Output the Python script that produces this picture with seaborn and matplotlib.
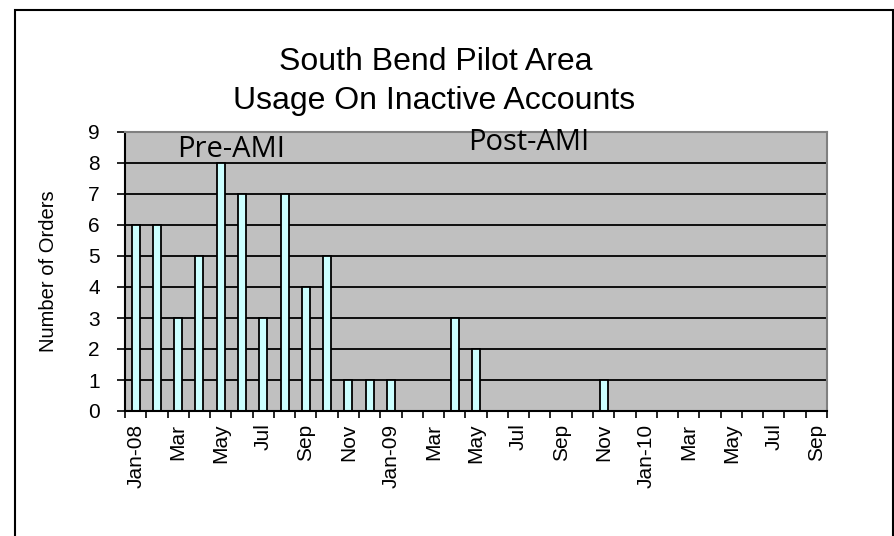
import numpy as np
import pandas as pd
import matplotlib
matplotlib.use("Agg")
import matplotlib.pyplot as plt
import seaborn as sns

# monthly orders, Jan-08 .. Sep-10
months = ['Jan-08', 'Feb-08', 'Mar-08', 'Apr-08', 'May-08', 'Jun-08', 'Jul-08', 'Aug-08',
          'Sep-08', 'Oct-08', 'Nov-08', 'Dec-08',
          'Jan-09', 'Feb-09', 'Mar-09', 'Apr-09', 'May-09', 'Jun-09', 'Jul-09', 'Aug-09',
          'Sep-09', 'Oct-09', 'Nov-09', 'Dec-09',
          'Jan-10', 'Feb-10', 'Mar-10', 'Apr-10', 'May-10', 'Jun-10', 'Jul-10', 'Aug-10',
          'Sep-10']
orders = [6, 6, 3, 5, 8, 7, 3, 7, 4, 5, 1, 1,
          1, 0, 0, 3, 2, 0, 0, 0, 0, 0, 1, 0,
          0, 0, 0, 0, 0, 0, 0, 0, 0]
tick_labels = ['Jan-08', 'Mar', 'May', 'Jul', 'Sep', 'Nov',
               'Jan-09', 'Mar', 'May', 'Jul', 'Sep', 'Nov',
               'Jan-10', 'Mar', 'May', 'Jul', 'Sep']

df = pd.DataFrame({'month': months, 'orders': orders})

sns.set_style("white")
plt.rcParams['font.family'] = ['Liberation Sans', 'DejaVu Sans']
# black text like the original spreadsheet chart
plt.rcParams['text.color'] = 'black'
plt.rcParams['axes.labelcolor'] = 'black'
plt.rcParams['xtick.color'] = 'black'
plt.rcParams['ytick.color'] = 'black'

fig = plt.figure(figsize=(8.95, 5.36), dpi=100)
ax = fig.add_axes([125 / 895, 1 - 411 / 536, (827 - 125) / 895, (411 - 132) / 536])
ax.set_facecolor('#C0C0C0')

sns.barplot(data=df, x='month', y='orders', order=months, color='#CCFFFF',
            saturation=1, edgecolor='black', linewidth=1.3, width=0.38, ax=ax)

ax.set_ylim(0, 9)
ax.set_xlim(-0.5, len(months) - 0.5)
ax.set_yticks(range(10))
ax.yaxis.grid(True, color='black', linewidth=1.3)
ax.set_axisbelow(True)

# tick marks on the category boundaries, labels every other month
ax.set_xticks(np.arange(0, len(months), 2))
ax.set_xticklabels(tick_labels, rotation=90, fontsize=15)
ax.set_xticks(np.arange(-0.5, len(months)), minor=True)
ax.tick_params(axis='x', which='major', length=0, pad=9)
ax.tick_params(axis='x', which='minor', direction='out', length=5, width=1.2, color='black', bottom=True)
ax.tick_params(axis='y', direction='out', length=6, width=1.2, color='black', labelsize=15, pad=12, left=True)

ax.set_xlabel('')
ax.set_ylabel('Number of Orders', fontsize=14.5)
ax.yaxis.set_label_coords(-0.095, 0.5)

for side in ['left', 'bottom']:
    ax.spines[side].set_color('black')
    ax.spines[side].set_linewidth(1.5)
for side in ['top', 'right']:
    ax.spines[side].set_visible(True)
    ax.spines[side].set_color('#808080')
    ax.spines[side].set_linewidth(1.5)

ax.text(4.5, 8.45, 'Pre-AMI', fontsize=21, family=['Open Sans', 'DejaVu Sans'],
        ha='center', va='center')
ax.text(18.5, 8.65, 'Post-AMI', fontsize=21, family=['Open Sans', 'DejaVu Sans'],
        ha='center', va='center')

fig.text(436 / 895, 1 - 62 / 536, 'South Bend Pilot Area', fontsize=23, ha='center', va='center')
fig.text(434 / 895, 1 - 101 / 536, 'Usage On Inactive Accounts', fontsize=23, ha='center', va='center')

# outer chart border
fig.patches.append(plt.Rectangle((15 / 895, -0.05), (893 - 15) / 895, 1.05 - 10 / 536,
                                 transform=fig.transFigure, fill=False,
                                 edgecolor='black', linewidth=1.5))

fig.savefig('out.png', dpi=100)
